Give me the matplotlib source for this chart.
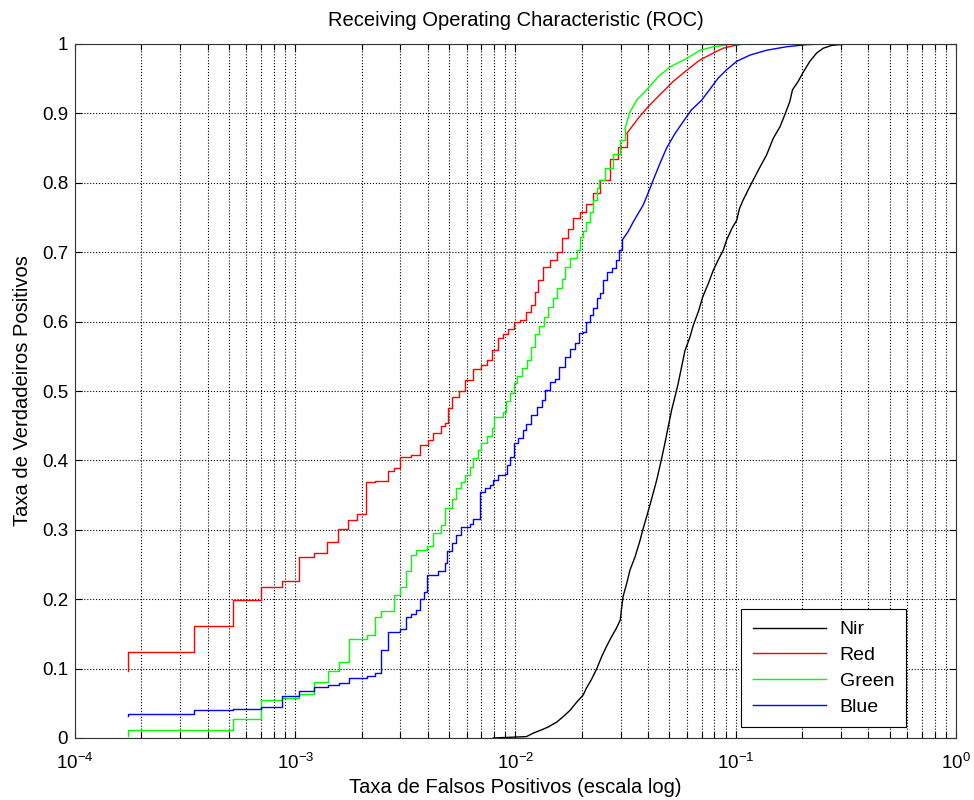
import matplotlib
matplotlib.use("Agg")
import matplotlib.pyplot as plt
from matplotlib.ticker import LogLocator, NullFormatter

plt.rcParams['font.family'] = ['Liberation Sans', 'DejaVu Sans']
plt.rcParams['mathtext.fontset'] = 'custom'
plt.rcParams['mathtext.rm'] = 'Liberation Sans'
plt.rcParams['mathtext.it'] = 'Liberation Sans'

# curvas ROC (fpr, tpr)
nir_fpr = [7.93e-3, 1.12e-2, 1.205e-2, 1.32e-2, 1.41e-2, 1.54e-2, 1.65e-2, 1.77e-2, 1.90e-2, 2.03e-2,
           2.10e-2, 2.21e-2, 2.34e-2, 2.46e-2, 2.59e-2, 2.73e-2, 2.87e-2, 2.99e-2, 3.03e-2, 3.08e-2,
           3.20e-2, 3.31e-2, 3.49e-2, 3.68e-2, 3.80e-2, 3.94e-2, 4.08e-2, 4.22e-2, 4.38e-2, 4.61e-2,
           4.77e-2, 4.94e-2, 5.12e-2, 5.30e-2, 5.48e-2, 5.68e-2, 5.88e-2, 6.20e-2, 6.42e-2, 6.76e-2,
           7.09e-2, 7.51e-2, 7.91e-2, 8.33e-2, 8.78e-2, 9.10e-2, 9.6e-2, 1.01e-1, 1.04e-1, 1.08e-1,
           1.16e-1, 1.29e-1, 1.38e-1, 1.48e-1, 1.59e-1, 1.67e-1, 1.76e-1, 1.81e-1, 1.92e-1, 2.03e-1,
           2.17e-1, 2.33e-1, 2.50e-1, 2.73e-1, 3.19e-1]
nir_tpr = [0.0, 0.002, 0.007, 0.012, 0.016, 0.023, 0.031, 0.040, 0.052, 0.062,
           0.072, 0.084, 0.100, 0.117, 0.132, 0.146, 0.158, 0.170, 0.186, 0.204,
           0.223, 0.242, 0.261, 0.285, 0.302, 0.319, 0.336, 0.353, 0.372, 0.403,
           0.425, 0.449, 0.473, 0.492, 0.511, 0.535, 0.558, 0.578, 0.595, 0.614,
           0.636, 0.655, 0.674, 0.689, 0.703, 0.718, 0.734, 0.746, 0.763, 0.775,
           0.795, 0.823, 0.840, 0.864, 0.881, 0.898, 0.917, 0.934, 0.946, 0.960,
           0.975, 0.987, 0.994, 0.998, 1.0]

red_fpr = [1.74e-4, 1.74e-4, 3.48e-4, 5.22e-4, 6.96e-4, 8.70e-4, 1.04e-3, 1.22e-3, 1.39e-3, 1.57e-3,
           1.74e-3, 1.91e-3, 2.09e-3, 2.30e-3, 2.64e-3, 2.82e-3, 3.0e-3, 3.34e-3, 3.69e-3, 4.02e-3,
           4.24e-3, 4.59e-3, 4.8e-3, 4.95e-3, 5.13e-3, 5.56e-3, 5.90e-3, 6.43e-3, 6.95e-3, 7.40e-3,
           7.80e-3, 8.30e-3, 8.75e-3, 9.27e-3, 9.88e-3, 1.047e-2, 1.12e-2, 1.18e-2, 1.225e-2, 1.27e-2,
           1.34e-2, 1.43e-2, 1.54e-2, 1.62e-2, 1.74e-2, 1.83e-2, 1.96e-2, 2.10e-2, 2.25e-2, 2.42e-2,
           2.69e-2, 2.93e-2, 3.20e-2, 3.61e-2, 4.01e-2, 4.53e-2, 5.20e-2, 5.98e-2, 6.88e-2, 7.91e-2,
           8.78e-2, 9.93e-2, 1.08e-1]
red_tpr = [0.097, 0.124, 0.162, 0.199, 0.218, 0.226, 0.261, 0.267, 0.283, 0.301,
           0.314, 0.323, 0.369, 0.371, 0.385, 0.389, 0.405, 0.408, 0.422, 0.429,
           0.440, 0.449, 0.454, 0.475, 0.492, 0.500, 0.516, 0.531, 0.538, 0.545,
           0.559, 0.576, 0.582, 0.590, 0.600, 0.602, 0.614, 0.624, 0.643, 0.660,
           0.678, 0.689, 0.701, 0.720, 0.734, 0.749, 0.758, 0.770, 0.785, 0.804,
           0.835, 0.852, 0.871, 0.893, 0.910, 0.927, 0.946, 0.962, 0.977, 0.987,
           0.994, 0.998, 1.0]

green_fpr = [1.74e-4, 1.74e-4, 3.48e-4, 5.22e-4, 6.96e-4, 8.70e-4, 1.04e-3, 1.22e-3, 1.41e-3, 1.585e-3,
             1.75e-3, 2.12e-3, 2.30e-3, 2.45e-3, 2.82e-3, 3.0e-3, 3.18e-3, 3.34e-3, 3.53e-3, 3.95e-3,
             4.24e-3, 4.59e-3, 4.79e-3, 5.13e-3, 5.37e-3, 5.66e-3, 5.91e-3, 6.21e-3, 6.43e-3, 6.76e-3,
             6.99e-3, 7.40e-3, 7.80e-3, 7.98e-3, 8.80e-3, 9.08e-3, 9.44e-3, 9.88e-3, 1.013e-2, 1.067e-2,
             1.125e-2, 1.17e-2, 1.225e-2, 1.28e-2, 1.347e-2, 1.41e-2, 1.48e-2, 1.54e-2, 1.62e-2, 1.68e-2,
             1.77e-2, 1.90e-2, 1.96e-2, 2.03e-2, 2.10e-2, 2.19e-2, 2.25e-2, 2.34e-2, 2.40e-2, 2.55e-2,
             2.78e-2, 2.99e-2, 3.14e-2, 3.31e-2, 3.55e-2, 3.94e-2, 4.45e-2, 5.03e-2, 5.98e-2, 6.88e-2,
             7.91e-2, 9.75e-2]
green_tpr = [0.003, 0.011, 0.012, 0.028, 0.055, 0.058, 0.063, 0.080, 0.096, 0.109,
             0.142, 0.148, 0.175, 0.183, 0.206, 0.217, 0.241, 0.264, 0.271, 0.277,
             0.295, 0.307, 0.332, 0.344, 0.360, 0.369, 0.379, 0.391, 0.404, 0.415,
             0.425, 0.435, 0.446, 0.463, 0.470, 0.485, 0.497, 0.511, 0.521, 0.533,
             0.545, 0.564, 0.582, 0.593, 0.607, 0.621, 0.634, 0.648, 0.662, 0.679,
             0.691, 0.703, 0.722, 0.730, 0.744, 0.758, 0.775, 0.792, 0.804, 0.821,
             0.842, 0.862, 0.878, 0.902, 0.919, 0.934, 0.953, 0.967, 0.979, 0.991,
             0.996, 1.0]

blue_fpr = [1.74e-4, 1.74e-4, 3.48e-4, 5.22e-4, 6.96e-4, 8.70e-4, 1.04e-3, 1.22e-3, 1.41e-3, 1.585e-3,
            1.75e-3, 2.12e-3, 2.30e-3, 2.45e-3, 2.64e-3, 3.0e-3, 3.18e-3, 3.34e-3, 3.53e-3, 3.69e-3,
            3.85e-3, 3.95e-3, 4.46e-3, 4.79e-3, 4.90e-3, 5.13e-3, 5.37e-3, 5.66e-3, 6.21e-3, 6.39e-3,
            6.88e-3, 7.29e-3, 7.70e-3, 7.93e-3, 8.35e-3, 8.96e-3, 9.12e-3, 9.44e-3, 9.88e-3, 1.03e-2,
            1.085e-2, 1.12e-2, 1.18e-2, 1.25e-2, 1.32e-2, 1.36e-2, 1.43e-2, 1.51e-2, 1.58e-2, 1.68e-2,
            1.77e-2, 1.86e-2, 1.95e-2, 2.03e-2, 2.10e-2, 2.19e-2, 2.25e-2, 2.34e-2, 2.42e-2, 2.49e-2,
            2.59e-2, 2.73e-2, 2.87e-2, 2.96e-2, 3.06e-2, 3.25e-2, 3.43e-2, 3.61e-2, 3.80e-2, 3.94e-2,
            4.08e-2, 4.22e-2, 4.53e-2, 4.85e-2, 5.30e-2, 5.77e-2, 6.29e-2, 7.0e-2, 7.6e-2, 8.33e-2,
            9.10e-2, 1.01e-1, 1.16e-1, 1.38e-1, 1.70e-1, 2.08e-1, 2.5e-1]
blue_tpr = [0.031, 0.035, 0.040, 0.042, 0.045, 0.061, 0.068, 0.073, 0.076, 0.079,
            0.086, 0.089, 0.094, 0.127, 0.153, 0.157, 0.175, 0.178, 0.185, 0.201,
            0.211, 0.235, 0.240, 0.252, 0.269, 0.281, 0.293, 0.304, 0.308, 0.315,
            0.354, 0.360, 0.365, 0.372, 0.379, 0.381, 0.393, 0.405, 0.425, 0.432,
            0.444, 0.453, 0.465, 0.477, 0.487, 0.501, 0.513, 0.518, 0.535, 0.549,
            0.561, 0.569, 0.583, 0.585, 0.600, 0.610, 0.619, 0.634, 0.641, 0.660,
            0.672, 0.677, 0.689, 0.703, 0.718, 0.730, 0.744, 0.756, 0.768, 0.780,
            0.792, 0.804, 0.828, 0.850, 0.871, 0.888, 0.905, 0.919, 0.934, 0.951,
            0.963, 0.975, 0.984, 0.991, 0.996, 0.999, 1.0]

y_ticks = [0, 0.1, 0.2, 0.3, 0.4, 0.5, 0.6, 0.7, 0.8, 0.9, 1]
y_ticklabels = ['0', '0.1', '0.2', '0.3', '0.4', '0.5', '0.6', '0.7', '0.8', '0.9', '1']


def plot_roc(ax, fpr, tpr, color, label, split=3e-2):
    # degraus visiveis na parte de baixo, acima de split os degraus sao tao pequenos que parece uma linha
    i = next(k for k, v in enumerate(fpr) if v >= split)
    ax.plot(fpr[:i + 1], tpr[:i + 1], color=color, lw=1.0, drawstyle='steps-post', label=label)
    ax.plot(fpr[i:], tpr[i:], color=color, lw=1.0)


fig = plt.figure(figsize=(9.74, 8.0), dpi=100)
ax = fig.add_axes([0.077, 0.0775, 0.9045, 0.8675])

ax.plot(nir_fpr, nir_tpr, color='k', lw=1.0, label='Nir')
plot_roc(ax, red_fpr, red_tpr, '#ff0000', 'Red')
plot_roc(ax, green_fpr, green_tpr, '#00ff00', 'Green')
plot_roc(ax, blue_fpr, blue_tpr, '#0000ff', 'Blue')

ax.set_xscale('log')
ax.set_xlim(1e-4, 1)
ax.set_ylim(0, 1)
ax.set_yticks(y_ticks)
ax.set_yticklabels(y_ticklabels)
ax.xaxis.set_major_locator(LogLocator(base=10, numticks=10))
ax.xaxis.set_minor_locator(LogLocator(base=10, subs=range(2, 10), numticks=20))
ax.xaxis.set_minor_formatter(NullFormatter())

ax.grid(True, which='major', linestyle=':', color='k', lw=0.8)
ax.grid(True, which='minor', axis='x', linestyle=':', color='k', lw=0.8)
ax.tick_params(which='both', direction='in', top=True, right=True, labelsize=13.5, width=0.8)
ax.tick_params(which='major', length=5, pad=5)
ax.tick_params(axis='x', which='major', pad=11)
ax.tick_params(which='minor', length=4)
for s in ax.spines.values():
    s.set_color('#333333')
    s.set_linewidth(0.8)

ax.set_title('Receiving Operating Characteristic (ROC)', fontsize=14.5, pad=13)
ax.set_xlabel('Taxa de Falsos Positivos (escala log)', fontsize=14.5, labelpad=3)
ax.set_ylabel('Taxa de Verdadeiros Positivos', fontsize=14.5, labelpad=7)

leg = ax.legend(loc='lower right', bbox_to_anchor=(0.943, 0.0154), borderaxespad=0,
                fontsize=14, fancybox=False, edgecolor='k', framealpha=1,
                handlelength=3.75, handletextpad=0.7, labelspacing=0.42, borderpad=0.6)
leg.get_frame().set_linewidth(0.8)

fig.savefig('out.png', dpi=100)
